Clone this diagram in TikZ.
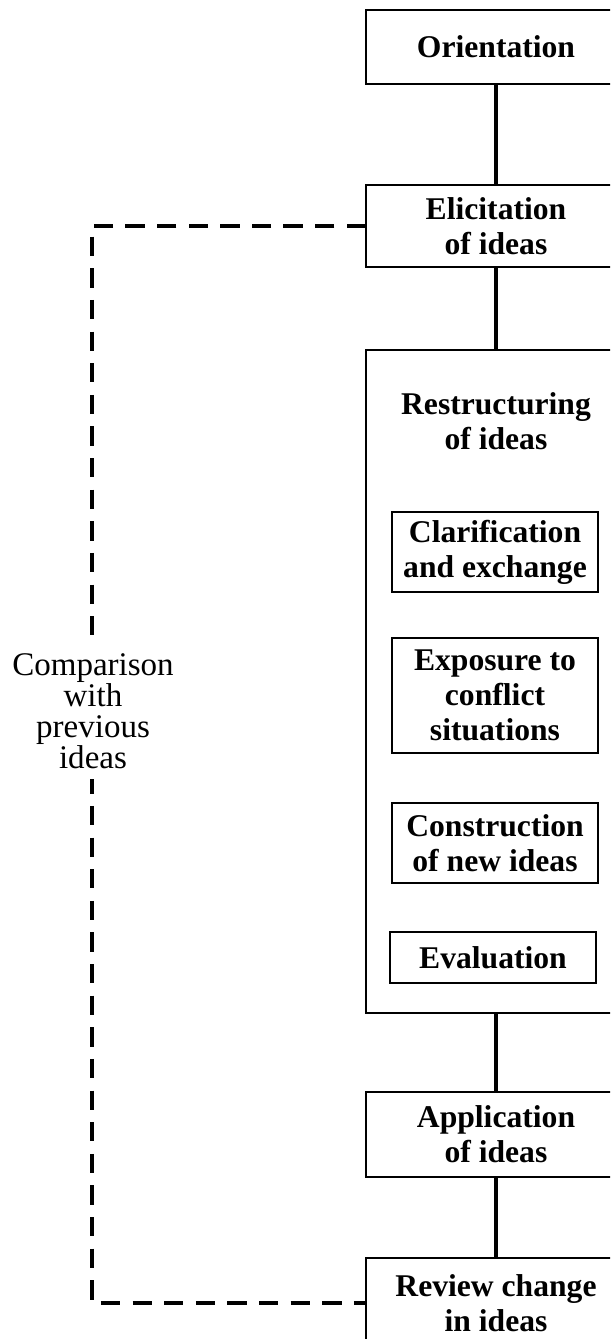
\documentclass[tikz,border=0pt]{standalone}
\usepackage{fontspec}
\setmainfont{Liberation Serif}
\begin{document}
\begin{tikzpicture}[x=0.02cm,y=-0.02cm,
                stage/.style={draw,line width=1pt,inner sep=0pt,outer sep=0pt,minimum width=5.2cm,align=center,
                    font=\bfseries\fontsize{18}{20}\selectfont},
                substage/.style={stage,line width=1.3pt,minimum width=4.12cm},
                link/.style={line width=2.8pt},
                feedback/.style={line width=2.4pt,dash pattern=on 11pt off 7pt},
                note/.style={fill=white,inner xsep=2pt,inner ysep=6pt,align=center,
                    font=\fontsize{18.8}{17.6}\selectfont}]
                % \helpgrid{3}{3}
                \useasboundingbox (0,0) rectangle (610,1339);
                \clip (0,0) rectangle (610,1339);

                \node[stage,minimum height=1.48cm] (orient) at (496,47) {Orientation};
                \node[stage,minimum height=1.64cm] (elicit) at (496,226) {Elicitation\\of ideas};
                \node[stage,minimum height=13.26cm] (restruct) at (496,681.5) {};
                \node[stage,draw=none] (restructtitle) at (496,421) {Restructuring\\of ideas};
                \node[substage,minimum height=1.6cm] (clarify) at (495,552) {Clarification\\and exchange};
                \node[substage,minimum height=2.3cm] (conflict) at (495,695.5) {Exposure to\\conflict\\situations};
                \node[substage,minimum height=1.6cm] (construct) at (495,843) {Construction\\of new ideas};
                \node[substage,minimum height=1.02cm] (evaluate) at (493,957.5) {Evaluation};
                \node[stage,minimum height=1.7cm] (apply) at (496,1134.5) {Application\\of ideas};
                \node[stage,minimum height=1.8cm] (review) at (496,1303) {Review change\\in ideas};

                \draw[link] (orient) -- (elicit);
                \draw[link] (elicit) -- (restruct);
                \draw[link] (restruct) -- (apply);
                \draw[link] (apply) -- (review);

                \draw[feedback] (elicit.west) -- ++(-274,0) |- (review.west);
                \node[note] (compare) at (93,711) {Comparison\\with\\previous\\ideas};
            \end{tikzpicture}
\end{document}
